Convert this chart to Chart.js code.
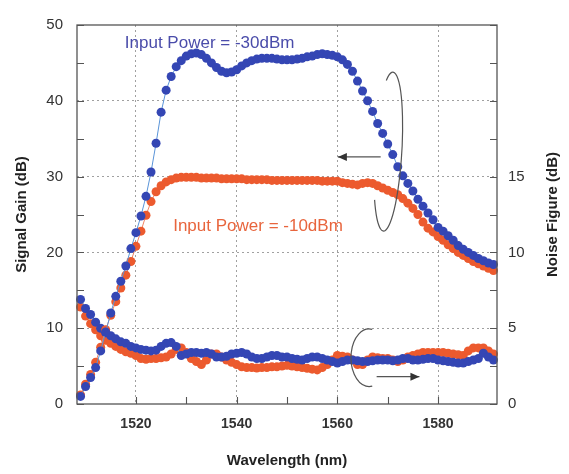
<!DOCTYPE html>
<html><head><meta charset="utf-8">
<script src="https://cdn.jsdelivr.net/npm/chart.js@4/dist/chart.umd.min.js"></script>
<style>html,body{margin:0;padding:0;background:#fff}#wrap{width:569px;height:474px;position:relative}</style>
</head><body><div id="wrap"><canvas id="c" width="569" height="474"></canvas></div>
<script>
// ---- data ----
const wavelengths = [
 1509,1510,1511,1512,1513,1514,1515,1516,1517,1518,
 1519,1520,1521,1522,1523,1524,1525,1526,1527,1528,
 1529,1530,1531,1532,1533,1534,1535,1536,1537,1538,
 1539,1540,1541,1542,1543,1544,1545,1546,1547,1548,
 1549,1550,1551,1552,1553,1554,1555,1556,1557,1558,
 1559,1560,1561,1562,1563,1564,1565,1566,1567,1568,
 1569,1570,1571,1572,1573,1574,1575,1576,1577,1578,
 1579,1580,1581,1582,1583,1584,1585,1586,1587,1588,
 1589,1590,1591];
// Signal gain (dB), input power -30 dBm
const gainM30 = [
 1.0, 2.3, 3.5, 4.8, 7.0, 9.5, 12.0, 14.2, 16.2, 18.2,
 20.5, 22.6, 24.8, 27.4, 30.6, 34.4, 38.5, 41.4, 43.2, 44.5,
 45.3, 45.9, 46.2, 46.3, 46.1, 45.6, 45.0, 44.4, 43.9, 43.7,
 43.8, 44.1, 44.6, 45.0, 45.3, 45.5, 45.6, 45.6, 45.6, 45.5,
 45.4, 45.4, 45.4, 45.5, 45.6, 45.8, 45.9, 46.1, 46.2, 46.1,
 46.0, 45.8, 45.4, 44.8, 43.9, 42.6, 41.3, 40.0, 38.6, 37.0,
 35.7, 34.3, 32.9, 31.3, 30.1, 29.1, 28.1, 27.0, 26.1, 25.2,
 24.3, 23.3, 22.8, 22.2, 21.6, 20.9, 20.4, 20.0, 19.6, 19.2,
 18.9, 18.6, 18.4];
// Signal gain (dB), input power -10 dBm
const gainM10 = [
 1.2, 2.6, 3.9, 5.5, 7.5, 9.8, 11.7, 13.5, 15.3, 17.0,
 18.8, 20.8, 22.8, 24.9, 26.7, 28.0, 28.8, 29.3, 29.6, 29.8,
 29.9, 29.9, 29.9, 29.9, 29.8, 29.8, 29.8, 29.8, 29.7, 29.7,
 29.7, 29.7, 29.7, 29.6, 29.6, 29.6, 29.6, 29.6, 29.5, 29.5,
 29.5, 29.5, 29.5, 29.5, 29.5, 29.5, 29.5, 29.5, 29.4, 29.4,
 29.4, 29.4, 29.2, 29.1, 29.0, 28.9, 29.1, 29.2, 29.1, 28.8,
 28.5, 28.2, 27.9, 27.6, 27.1, 26.5, 25.8, 25.0, 24.0, 23.2,
 22.7, 22.1, 21.6, 21.0, 20.5, 20.0, 19.6, 19.2, 18.8, 18.5,
 18.2, 17.9, 17.6];
// Noise figure (dB), input power -30 dBm
const nfM30 = [
 6.9, 6.3, 5.9, 5.4, 5.0, 4.7, 4.5, 4.3, 4.1, 4.0,
 3.8, 3.7, 3.6, 3.55, 3.5, 3.55, 3.8, 4.0, 4.05, 3.8,
 3.2, 3.3, 3.4, 3.4, 3.35, 3.4, 3.3, 3.1, 3.1, 3.15,
 3.3, 3.35, 3.4, 3.3, 3.1, 3.0, 3.0, 3.1, 3.2, 3.2,
 3.1, 3.1, 3.0, 2.95, 2.9, 3.0, 3.1, 3.1, 3.0, 2.9,
 2.8, 2.7, 2.8, 2.9, 2.9, 2.85, 2.8, 2.8, 2.85, 2.9,
 2.9, 2.9, 2.85, 2.9, 3.0, 3.0, 2.9, 2.9, 2.95, 3.0,
 3.0, 2.9, 2.85, 2.8, 2.75, 2.7, 2.7, 2.8, 2.9, 3.0,
 3.35, 3.1, 2.9];
// Noise figure (dB), input power -10 dBm
const nfM10 = [
 6.4, 5.8, 5.3, 4.9, 4.5, 4.2, 4.0, 3.8, 3.6, 3.45,
 3.35, 3.2, 3.0, 2.95, 3.0, 3.0, 3.05, 3.1, 3.3, 3.6,
 3.7, 3.4, 3.0, 2.8, 2.6, 2.9, 3.3, 3.3, 3.1, 2.9,
 2.75, 2.6, 2.45, 2.4, 2.4, 2.37, 2.4, 2.4, 2.45, 2.45,
 2.5, 2.55, 2.5, 2.45, 2.4, 2.35, 2.3, 2.25, 2.4, 2.6,
 2.9, 3.2, 3.15, 3.1, 2.9, 2.6, 2.6, 2.9, 3.1, 3.05,
 3.0, 3.0, 2.9, 2.8, 2.9, 3.1, 3.2, 3.3, 3.4, 3.4,
 3.4, 3.4, 3.4, 3.35, 3.3, 3.25, 3.2, 3.5, 3.7, 3.7,
 3.7, 3.5, 3.3];

const xTickValues = [1520,1530,1540,1550,1560,1570,1580];
const xLabelValues = [1520,1540,1560,1580];
const gainTickValues = [0,5,10,15,20,25,30,35,40,45,50];
const gainLabelValues = [0,10,20,30,40,50];
const nfTickValues = [0,2.5,5,7.5,10,12.5,15,17.5,20,22.5,25];
const nfLabelValues = [0,5,10,15];

const seriesLabels = ['Input Power = -30dBm','Input Power = -10dBm'];
const axisTitles = {x:'Wavelength (nm)', left:'Signal Gain (dB)', right:'Noise Figure (dB)'};

// ---- styles ----
const FONT = "'Liberation Sans', Arial, Helvetica, sans-serif";
const BLUE = '#3446b4', BLUE_LINE = '#5a94d8';
const ORANGE = '#ec5a2e', ORANGE_LINE = '#f08464';

const pts = ys => wavelengths.map((x,i)=>({x:x, y:ys[i]}));
const ds = (label, ys, axis, dot, line, order) => ({
  label, data: pts(ys), yAxisID: axis, order,
  borderColor: line, borderWidth: 1, backgroundColor: dot,
  pointBackgroundColor: dot, pointBorderWidth: 0, pointRadius: 4.5,
  tension: 0, clip: false
});

const decor = {
  id: 'decor',
  afterDatasetsDraw(chart){
    const {ctx, chartArea:a, scales:{x, yL, yR}} = chart;
    ctx.save();
    // frame
    ctx.strokeStyle = '#555'; ctx.lineWidth = 1.3; ctx.setLineDash([]);
    ctx.strokeRect(a.left, a.top, a.right-a.left, a.bottom-a.top);
    // inward tick marks
    ctx.lineWidth = 1.1; ctx.beginPath();
    x.ticks.forEach(t=>{const p=Math.round(x.getPixelForValue(t.value))+0.5; ctx.moveTo(p,a.bottom); ctx.lineTo(p,a.bottom-7);});
    yL.ticks.forEach(t=>{const p=Math.round(yL.getPixelForValue(t.value))+0.5; ctx.moveTo(a.left,p); ctx.lineTo(a.left+7,p);});
    yR.ticks.forEach(t=>{const p=Math.round(yR.getPixelForValue(t.value))+0.5; ctx.moveTo(a.right,p); ctx.lineTo(a.right-7,p);});
    ctx.stroke();

    // annotation: bracket around gain curves + arrow to left axis
    ctx.strokeStyle = '#555'; ctx.fillStyle = '#333'; ctx.lineWidth = 1.2;
    const X = v=>x.getPixelForValue(v), Y = v=>yL.getPixelForValue(v);
    let cx = X(1570.1), cy = Y(33.3);
    let rx = X(1572.8)-cx, ry = Y(22.8)-cy;
    ctx.beginPath(); ctx.ellipse(cx, cy, rx, ry, 0.06, -117*Math.PI/180, 142*Math.PI/180, false); ctx.stroke();
    const arrow = (x1,y1,x2,y2)=>{
      ctx.beginPath(); ctx.moveTo(x1,y1); ctx.lineTo(x2,y2); ctx.stroke();
      const dir = Math.sign(x2-x1);
      ctx.beginPath(); ctx.moveTo(x2,y2); ctx.lineTo(x2-dir*9,y2-4); ctx.lineTo(x2-dir*9,y2+4); ctx.closePath(); ctx.fill();
    };
    arrow(X(1568.6), Y(32.6), X(1560.1), Y(32.6));
    // annotation: bracket around NF curves + arrow to right axis
    cx = X(1566.3); cy = Y(6.1);
    rx = X(1569.9)-cx; ry = Y(2.3)-cy;
    ctx.beginPath(); ctx.ellipse(cx, cy, rx, ry, 0, -80*Math.PI/180, 80*Math.PI/180, true); ctx.stroke();
    arrow(X(1567.8), Y(3.6), X(1576.3), Y(3.6));

    // series labels
    ctx.font = '17px ' + FONT; ctx.textBaseline = 'alphabetic'; ctx.textAlign = 'left';
    ctx.fillStyle = '#4a4caa'; ctx.fillText(seriesLabels[0], X(1517.8), Y(47.0));
    ctx.fillStyle = '#e8653d'; ctx.fillText(seriesLabels[1], X(1527.4), Y(22.8));
    ctx.restore();
  },
  afterDraw(chart){
    const {ctx, chartArea:a} = chart;
    ctx.save();
    ctx.fillStyle = '#222'; ctx.font = 'bold 15px ' + FONT;
    ctx.textAlign = 'center'; ctx.textBaseline = 'middle';
    const midY = (a.top + a.bottom)/2;
    ctx.fillText(axisTitles.x, (a.left+a.right)/2, 461);
    ctx.save(); ctx.translate(22, midY); ctx.rotate(-Math.PI/2); ctx.fillText(axisTitles.left, 0, 0); ctx.restore();
    ctx.save(); ctx.translate(553, midY); ctx.rotate(-Math.PI/2); ctx.fillText(axisTitles.right, 0, 0); ctx.restore();
    ctx.restore();
  }
};

const tickSet = vals => s => { s.ticks = vals.map(v=>({value:v})); };

new Chart(document.getElementById('c'), {
  type: 'line',
  data: { datasets: [
    ds('Gain -30dBm', gainM30, 'yL', BLUE, BLUE_LINE, 0),
    ds('Gain -10dBm', gainM10, 'yL', ORANGE, ORANGE_LINE, 1),
    ds('NF -30dBm', nfM30, 'yR', BLUE, BLUE_LINE, 2),
    ds('NF -10dBm', nfM10, 'yR', ORANGE, ORANGE_LINE, 3)
  ]},
  options: {
    responsive: false, animation: false, devicePixelRatio: 1,
    layout: { padding: { top: 25, left: 0, right: 0, bottom: 0 } },
    plugins: { legend: {display:false}, tooltip: {enabled:false}, title:{display:false} },
    scales: {
      x: {
        type: 'linear', min: 1508.3, max: 1591.7,
        afterBuildTicks: tickSet(xTickValues),
        afterFit: s => { s.height = 70; },
        ticks: { autoSkip:false, maxRotation:0, padding: 12, color:'#333',
          font:{family:FONT, size:14, weight:'bold'},
          callback: v => xLabelValues.includes(v) ? String(v) : '' },
        grid: { drawTicks:false, lineWidth:1,
          color: c => (c.tick && xLabelValues.includes(c.tick.value)) ? '#a0a0a0' : 'rgba(0,0,0,0)' },
        border: { display:false, dash:[2,3] }
      },
      yL: {
        type: 'linear', position: 'left', min: 0, max: 50,
        afterBuildTicks: tickSet(gainTickValues),
        afterFit: s => { s.width = 77; },
        ticks: { padding: 14, color:'#333', font:{family:FONT, size:15},
          callback: v => gainLabelValues.includes(v) ? String(v) : '' },
        grid: { drawTicks:false, lineWidth:1,
          color: c => (c.tick && [10,20,30,40].includes(c.tick.value)) ? '#a0a0a0' : 'rgba(0,0,0,0)' },
        border: { display:false, dash:[2,3] }
      },
      yR: {
        type: 'linear', position: 'right', min: 0, max: 25,
        afterBuildTicks: tickSet(nfTickValues),
        afterFit: s => { s.width = 72; },
        ticks: { padding: 11, color:'#333', font:{family:FONT, size:15},
          callback: v => nfLabelValues.includes(v) ? String(v) : '' },
        grid: { display:false, drawTicks:false },
        border: { display:false }
      }
    }
  },
  plugins: [decor]
});
</script>
</body></html>
